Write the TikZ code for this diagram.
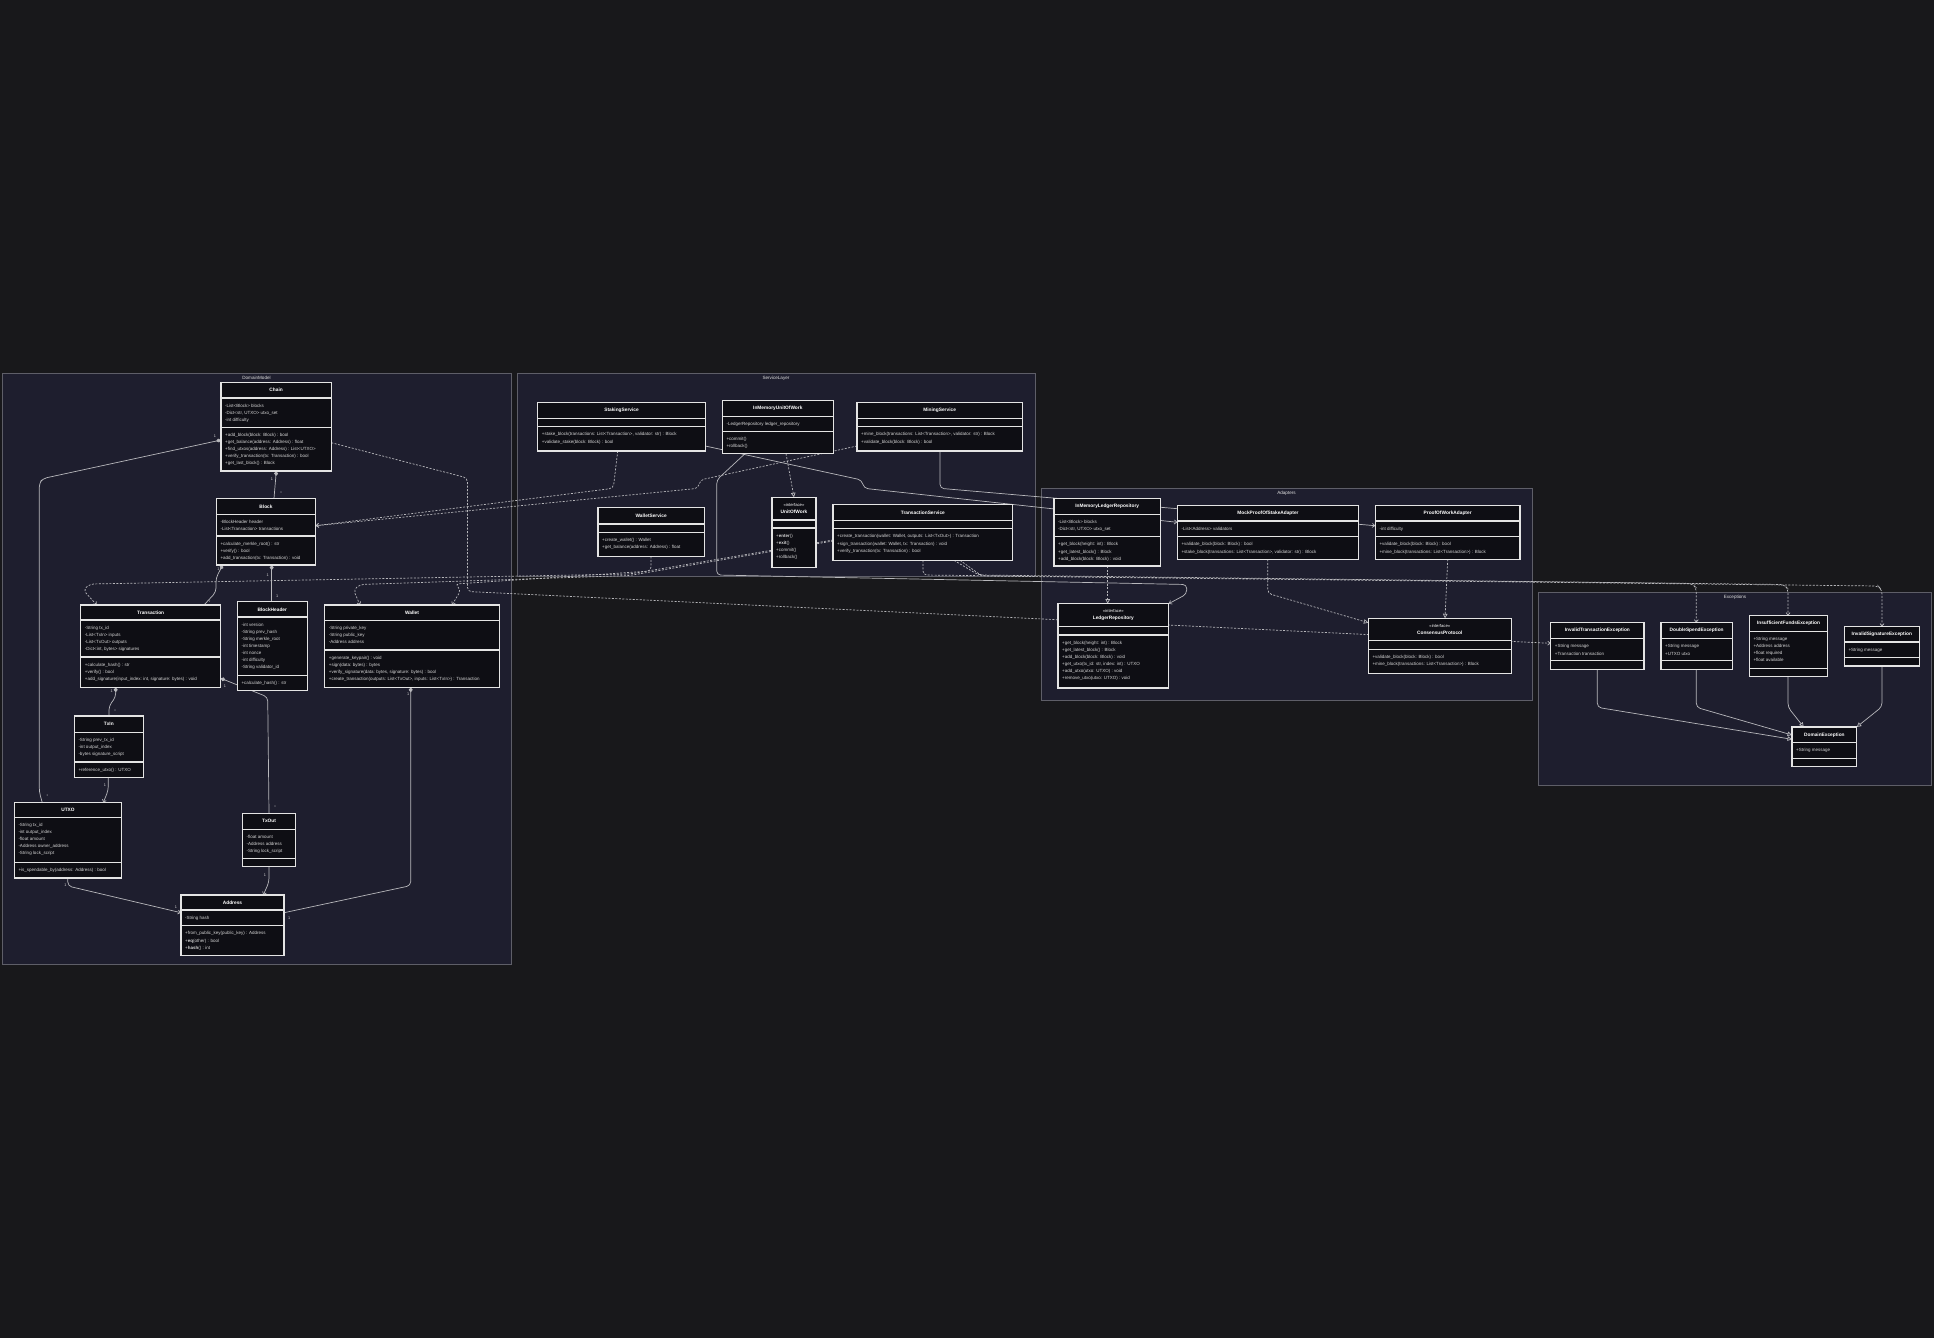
\documentclass[tikz,border=0pt]{standalone}
\usepackage{fontspec}
\setmainfont{Liberation Sans}
\usetikzlibrary{arrows.meta, calc}
\definecolor{cbg}{HTML}{18181B}
\definecolor{cpkg}{HTML}{1E1E2E}
\definecolor{cpkgline}{HTML}{5E5E68}
\definecolor{cbox}{HTML}{0E0E14}
\definecolor{cline}{HTML}{E4E4E4}
\definecolor{clink}{HTML}{B8B8BC}
\definecolor{ctext}{HTML}{D6D6D6}
\pgfdeclarelayer{bg}
\pgfdeclarelayer{links}
\pgfsetlayers{bg,links,main}
\tikzset{
  pkg/.style={draw=cpkgline, fill=cpkg, line width=1pt},
  pkglabel/.style={font=\fontsize{4.6}{5}\selectfont, text=ctext!75, anchor=north, inner sep=0},
  classbox/.style={draw=cline, fill=cbox, line width=1.1pt, inner sep=0, outer sep=0},
  classsep/.style={draw=cline, line width=1.1pt},
  classtitle/.style={font=\fontsize{4.8}{7}\selectfont\bfseries, text=white, align=center, inner sep=0},
  member/.style={font=\fontsize{4.5}{5}\selectfont, text=ctext, anchor=base west, inner sep=0},
  card/.style={font=\fontsize{3.8}{4}\selectfont, text=ctext, inner sep=0},
  link/.style={draw=clink, line width=0.7pt, rounded corners=4pt},
  dep/.style={link, dash pattern=on 2pt off 1.5pt},
  depar/.style={dep, -{Straight Barb[length=2.5pt,width=4pt]}},
  comp/.style={link, {Diamond[length=5pt,width=4pt]}-},
  assoc/.style={link, -{Straight Barb[length=2.5pt,width=4pt]}},
  realize/.style={dep, -{Triangle[open,length=4.5pt,width=4.5pt]}},
  inherit/.style={link, -{Triangle[open,length=4.5pt,width=4.5pt]}},
}

\begin{document}
\begin{tikzpicture}[x=1pt, y=-1pt]
  \newcommand{\umlclass}[8]{% name, x1, y1, x2, y2, title line, member line, title
    \node[classbox, minimum width={#4-#2}, minimum height={#5-#3}] (#1) at ({(#2+#4)/2},{(#3+#5)/2}) {};
    \draw[classsep] (#2,#6) -- (#4,#6) (#2,#7) -- (#4,#7);
    \node[classtitle] (#1-title) at ({(#2+#4)/2},{(#3+#6)/2}) {#8};
  }
  \newcommand{\members}[4]{% name, x1, line above, list of lines
    \foreach \m [count=\k] in {#4} {
      \node[member] (#1-\k) at (#2+4,{#3+9.2+7.1*(\k-1)}) {\m};
    }
  }
  \newcommand{\iface}{{\mdseries\fontsize{4.2}{7}\selectfont «interface»}}
  \useasboundingbox (0,0) rectangle (1934,1338);

  % packages
  \begin{pgfonlayer}{bg}
    \fill[cbg] (0,0) rectangle (1934,1338);
    \draw[pkg] (2.3,373.3) rectangle (511,964.5);
    \draw[pkg] (517.5,373.3) rectangle (1035,576.5);
    \draw[pkg] (1041,488.3) rectangle (1532,700.5);
    \draw[pkg] (1538.5,592.7) rectangle (1931.5,785.7);
  \end{pgfonlayer}
  \node[pkglabel] (pkg-domain) at (256.5,375.5) {DomainModel};
  \node[pkglabel] (pkg-services) at (776,375.5) {ServiceLayer};
  \node[pkglabel] (pkg-adapters) at (1286.5,490.5) {Adapters};
  \node[pkglabel] (pkg-exceptions) at (1735,595) {Exceptions};

  % domain model
  \umlclass{chain}{221}{382.3}{331.3}{471}{398}{427.3}{Chain}
  \members{chain-a}{221}{398}{{-List<Block> blocks},{-Dict<str, UTXO> utxo\_set},{-int difficulty}}
  \members{chain-m}{221}{427.3}{{+add\_block(block: Block) : bool},{+get\_balance(address: Address) : float},{+find\_utxos(address: Address) : List<UTXO>},{+verify\_transaction(tx: Transaction) : bool},{+get\_last\_block() : Block}}
  \umlclass{block}{216.3}{498.3}{315.7}{565}{514.3}{536}{Block}
  \members{block-a}{216.3}{514.3}{{-BlockHeader header},{-List<Transaction> transactions}}
  \members{block-m}{216.3}{536}{{+calculate\_merkle\_root() : str},{+verify() : bool},{+add\_transaction(tx: Transaction) : void}}
  \umlclass{transaction}{80.7}{605}{220.7}{687.3}{620}{657}{Transaction}
  \members{transaction-a}{80.7}{620}{{-String tx\_id},{-List<TxIn> inputs},{-List<TxOut> outputs},{-Dict<int, bytes> signatures}}
  \members{transaction-m}{80.7}{657}{{+calculate\_hash() : str},{+verify() : bool},{+add\_signature(input\_index: int, signature: bytes) : void}}
  \umlclass{blockheader}{237.3}{601.7}{307.3}{690.7}{617}{675.7}{BlockHeader}
  \members{blockheader-a}{237.3}{617}{{-int version},{-String prev\_hash},{-String merkle\_root},{-int timestamp},{-int nonce},{-int difficulty},{-String validator\_id}}
  \members{blockheader-m}{237.3}{675.7}{{+calculate\_hash() : str}}
  \umlclass{wallet}{324.7}{605}{499.3}{687.3}{620.3}{650}{Wallet}
  \members{wallet-a}{324.7}{620.3}{{-String private\_key},{-String public\_key},{-Address address}}
  \members{wallet-m}{324.7}{650}{{+generate\_keypair() : void},{+sign(data: bytes) : bytes},{+verify\_signature(data: bytes, signature: bytes) : bool},{+create\_transaction(outputs: List<TxOut>, inputs: List<TxIn>) : Transaction}}
  \umlclass{txin}{74.3}{716}{143.3}{777.3}{732.3}{762}{TxIn}
  \members{txin-a}{74.3}{732.3}{{-String prev\_tx\_id},{-int output\_index},{-bytes signature\_script}}
  \members{txin-m}{74.3}{762}{{+reference\_utxo() : UTXO}}
  \umlclass{utxo}{14.3}{802.7}{121.7}{878}{817.3}{862.3}{UTXO}
  \members{utxo-a}{14.3}{817.3}{{-String tx\_id},{-int output\_index},{-float amount},{-Address owner\_address},{-String lock\_script}}
  \members{utxo-m}{14.3}{862.3}{{+is\_spendable\_by(address: Address) : bool}}
  \umlclass{txout}{242.3}{813.3}{295.7}{866.7}{829.3}{858.7}{TxOut}
  \members{txout-a}{242.3}{829.3}{{-float amount},{-Address address},{-String lock\_script}}
  \umlclass{address}{181}{895}{284}{955.7}{910}{925.7}{Address}
  \members{address-a}{181}{910}{{-String hash}}
  \members{address-m}{181}{925.7}{{+from\_public\_key(public\_key) : Address},{+\textbf{eq}(other) : bool},{+\textbf{hash}() : int}}

  % service layer
  \umlclass{stakingsvc}{537.7}{402.7}{705.3}{451}{418.3}{426.7}{StakingService}
  \members{stakingsvc-m}{537.7}{426.7}{{+stake\_block(transactions: List<Transaction>, validator: str) : Block},{+validate\_stake(block: Block) : bool}}
  \umlclass{inmemuow}{722.3}{400.3}{833.3}{453.7}{416.3}{431.3}{InMemoryUnitOfWork}
  \members{inmemuow-a}{722.3}{416.3}{{-LedgerRepository ledger\_repository}}
  \members{inmemuow-m}{722.3}{431.3}{{+commit()},{+rollback()}}
  \umlclass{miningsvc}{857}{402.7}{1022.3}{451}{418.3}{426.7}{MiningService}
  \members{miningsvc-m}{857}{426.7}{{+mine\_block(transactions: List<Transaction>, validator: str) : Block},{+validate\_block(block: Block) : bool}}
  \umlclass{walletsvc}{598}{507.7}{704.3}{556.3}{524}{532.3}{WalletService}
  \members{walletsvc-m}{598}{532.3}{{+create\_wallet() : Wallet},{+get\_balance(address: Address) : float}}
  \umlclass{uow}{772}{497.3}{816}{567.3}{520}{528}{\iface\\UnitOfWork}
  \members{uow-m}{772}{528}{{+\textbf{enter}()},{+\textbf{exit}()},{+commit()},{+rollback()}}
  \umlclass{txsvc}{833}{504.7}{1012.7}{560.3}{520.7}{528.7}{TransactionService}
  \members{txsvc-m}{833}{528.7}{{+create\_transaction(wallet: Wallet, outputs: List<TxOut>) : Transaction},{+sign\_transaction(wallet: Wallet, tx: Transaction) : void},{+verify\_transaction(tx: Transaction) : bool}}

  % adapters
  \umlclass{inmemrepo}{1054}{498.7}{1160.3}{566}{514.3}{536.7}{InMemoryLedgerRepository}
  \members{inmemrepo-a}{1054}{514.3}{{-List<Block> blocks},{-Dict<str, UTXO> utxo\_set}}
  \members{inmemrepo-m}{1054}{536.7}{{+get\_block(height: int) : Block},{+get\_latest\_block() : Block},{+add\_block(block: Block) : void}}
  \umlclass{mockpos}{1177.3}{505.7}{1358.7}{559.3}{521}{536.7}{MockProofOfStakeAdapter}
  \members{mockpos-a}{1177.3}{521}{{-List<Address> validators}}
  \members{mockpos-m}{1177.3}{536.7}{{+validate\_block(block: Block) : bool},{+stake\_block(transactions: List<Transaction>, validator: str) : Block}}
  \umlclass{powadapter}{1375.3}{505.7}{1520}{559.3}{521}{536.7}{ProofOfWorkAdapter}
  \members{powadapter-a}{1375.3}{521}{{-int difficulty}}
  \members{powadapter-m}{1375.3}{536.7}{{+validate\_block(block: Block) : bool},{+mine\_block(transactions: List<Transaction>) : Block}}
  \umlclass{ledgerrepo}{1058}{603.7}{1168.7}{688}{626.7}{635}{\iface\\LedgerRepository}
  \members{ledgerrepo-m}{1058}{635}{{+get\_block(height: int) : Block},{+get\_latest\_block() : Block},{+add\_block(block: Block) : void},{+get\_utxo(tx\_id: str, index: int) : UTXO},{+add\_utxo(utxo: UTXO) : void},{+remove\_utxo(utxo: UTXO) : void}}
  \umlclass{consensus}{1368.3}{618.3}{1511.3}{673.3}{640.7}{649.3}{\iface\\ConsensusProtocol}
  \members{consensus-m}{1368.3}{649.3}{{+validate\_block(block: Block) : bool},{+mine\_block(transactions: List<Transaction>) : Block}}

  % exceptions
  \umlclass{invalidtx}{1550.7}{622.7}{1644}{669.3}{638.7}{660.7}{InvalidTransactionException}
  \members{invalidtx-a}{1550.7}{638.7}{{+String message},{+Transaction transaction}}
  \umlclass{doublespend}{1661}{622.7}{1732.3}{669.3}{638.7}{660.7}{DoubleSpendException}
  \members{doublespend-a}{1661}{638.7}{{+String message},{+UTXO utxo}}
  \umlclass{insufficient}{1749.3}{615.7}{1827.7}{676.3}{631.3}{668.3}{InsufficientFundsException}
  \members{insufficient-a}{1749.3}{631.3}{{+String message},{+Address address},{+float required},{+float available}}
  \umlclass{invalidsig}{1844.3}{626.7}{1919.3}{666}{642}{657.3}{InvalidSignatureException}
  \members{invalidsig-a}{1844.3}{642}{{+String message}}
  \umlclass{domainexc}{1792}{727}{1856.7}{766.3}{742.7}{758.7}{DomainException}
  \members{domainexc-a}{1792}{742.7}{{+String message}}

  \begin{pgfonlayer}{links}
  % composition
  \draw[comp] (276.3,0 |- chain.south) -- (274,0 |- block.north);
  \draw[comp] (222.7,0 |- block.south) -- (216,578) -- (216,592) -- (204,0 |- transaction.north);
  \draw[comp] (271.7,0 |- block.south) -- (271.7,0 |- blockheader.north);
  \draw[comp] (115.7,0 |- transaction.south) -- (115.7,697) -- (109,706) -- (109,0 |- txin.north);
  \draw[comp] (chain.west |- 0,440) -- (43,478.5) -- (39.3,483) -- (39.3,792) -- (42.3,0 |- utxo.north);
  \draw[comp] (transaction.east |- 0,678.3) -- (267.7,697) -- (269,0 |- txout.north);
  \draw[comp] (410.7,0 |- wallet.south) -- (410.7,885.6) -- (address.east |- 0,912.7);
  % association
  \draw[assoc] (108.3,0 |- txin.south) -- (108.3,790) -- (103.3,0 |- utxo.north);
  \draw[assoc] (269,0 |- txout.south) -- (269,882) -- (263.3,0 |- address.north);
  \draw[assoc] (67.8,0 |- utxo.south) -- (67.8,886) -- (address.west |- 0,912.7);
  \draw[assoc] (745,0 |- inmemuow.south) -- (716.7,480) -- (716.7,575) -- (1186.7,584.5) -- (1186.7,594) -- (ledgerrepo.north east);
  \draw[assoc] (stakingsvc.east |- 0,446) -- (861.7,480) -- (864,488.3) -- (mockpos.west |- 0,522.3);
  \draw[assoc] (940,0 |- miningsvc.south) -- (940,488.3) -- (powadapter.west |- 0,525.7);
  % dependency
  \draw[depar] (chain.east |- 0,442.7) -- (467.5,478) -- (467.5,591.5) -- (invalidtx.west |- 0,643.3);
  \draw[depar] (617.7,0 |- stakingsvc.south) -- (613.3,488.3) -- (block.east |- 0,525.7);
  \draw[depar] (miningsvc.west |- 0,446) -- (700,480) -- (698.3,488.3) -- (block.east |- 0,525.7);
  \draw[depar] (txsvc.west |- 0,540) -- (629.5,574) -- (90,584) -- (83.3,590) -- (96.7,0 |- transaction.north);
  \draw[depar] (txsvc.west |- 0,541) -- (629.5,575.5) -- (360,584.5) -- (353.5,590) -- (360,0 |- wallet.north);
  \draw[depar] (651,0 |- walletsvc.south) -- (651,571) -- (455,584) -- (461,590) -- (452,0 |- wallet.north);
  \draw[depar] (923,0 |- txsvc.south) -- (923,575) -- (1692,583.5) -- (1696.3,588) -- (1696.3,0 |- doublespend.north);
  \draw[depar] (954,0 |- txsvc.south) -- (978.5,575) -- (1784,584.5) -- (1788,589) -- (1788,0 |- insufficient.north);
  \draw[depar] (960,0 |- txsvc.south) -- (982,576) -- (1878,586) -- (1882,590) -- (1882,0 |- invalidsig.north);
  % realization
  \draw[realize] (786,0 |- inmemuow.south) -- (794,0 |- uow.north);
  \draw[realize] (1107.7,0 |- inmemrepo.south) -- (1107.7,0 |- ledgerrepo.north);
  \draw[realize] (1267.7,0 |- mockpos.south) -- (1267.7,593.3) -- (consensus.west |- 0,622.7);
  \draw[realize] (1447.7,0 |- powadapter.south) -- (1445,0 |- consensus.north);
  % inheritance
  \draw[inherit] (1597.3,0 |- invalidtx.south) -- (1597.3,707.3) -- (domainexc.west |- 0,739.3);
  \draw[inherit] (1696.3,0 |- doublespend.south) -- (1696.3,707.3) -- (domainexc.west |- 0,735);
  \draw[inherit] (1788,0 |- insufficient.south) -- (1788,707.3) -- (1803.7,0 |- domainexc.north);
  \draw[inherit] (1882,0 |- invalidsig.south) -- (1882,706.7) -- (domainexc.north east);
  \end{pgfonlayer}

  % multiplicities
  \node[card] (m1) at (272,479) {1};
  \node[card] (m2) at (281,493) {*};
  \node[card] (m3) at (218.5,569.5) {1};
  \node[card] (m4) at (209.5,602) {*};
  \node[card] (m5) at (267.7,575) {1};
  \node[card] (m6) at (277.3,596) {1};
  \node[card] (m7) at (111.7,691) {1};
  \node[card] (m8) at (115,711) {*};
  \node[card] (m9) at (215,436.5) {1};
  \node[card] (m10) at (47.3,796) {*};
  \node[card] (m11) at (105,785) {1};
  \node[card] (m12) at (265,875) {1};
  \node[card] (m13) at (65.4,885.6) {1};
  \node[card] (m14) at (176,906.7) {1};
  \node[card] (m15) at (289.3,918.3) {1};
  \node[card] (m16) at (408.3,694.4) {1};
  \node[card] (m17) at (225,685.7) {1};
  \node[card] (m18) at (275,807.3) {*};
\end{tikzpicture}
\end{document}
